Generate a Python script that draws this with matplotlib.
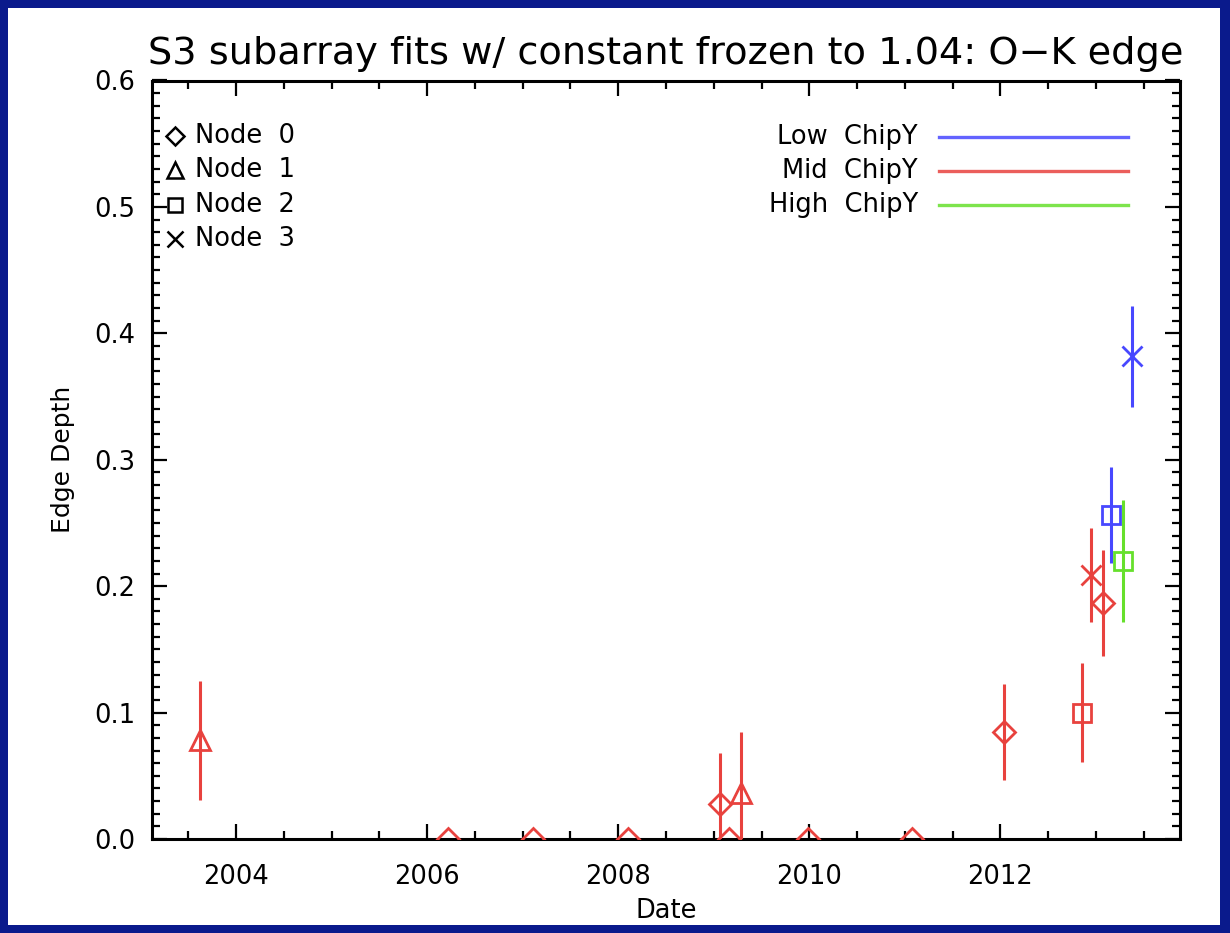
import matplotlib.pyplot as plt
from matplotlib.patches import Rectangle
from matplotlib.ticker import MultipleLocator

# Mid ChipY fits (red)
mid_date = [2003.62, 2006.22, 2007.11, 2008.10, 2009.07, 2009.16, 2009.29,
            2009.99, 2011.08, 2012.04, 2012.85, 2012.95, 2013.07]
mid_depth = [0.078, 0.0, 0.0, 0.0, 0.028, 0.0, 0.036,
             0.0, 0.0, 0.085, 0.100, 0.209, 0.187]
mid_err = [0.047, 0.0, 0.0, 0.0, 0.040, 0.0, 0.049,
           0.0, 0.0, 0.038, 0.039, 0.037, 0.042]
mid_node = [1, 0, 0, 0, 0, 0, 1, 0, 0, 0, 2, 3, 0]

# Low ChipY fits (blue)
low_date = [2013.16, 2013.38]
low_depth = [0.256, 0.382]
low_err = [0.038, 0.040]
low_node = [2, 3]

# High ChipY fits (green)
high_date = [2013.28]
high_depth = [0.220]
high_err = [0.048]
high_node = [2]

node_names = ['Node  0', 'Node  1', 'Node  2', 'Node  3']
chip_names = ['Low  ChipY', 'Mid  ChipY', 'High  ChipY']

node_marker = {0: 'D', 1: '^', 2: 's', 3: 'x'}
node_ms = {0: 11, 1: 14, 2: 13, 3: 15}
RED = '#e8423e'
BLUE = '#4848ff'
GREEN = '#66e02c'
chip_color = [BLUE, RED, GREEN]

plt.rcParams['font.family'] = 'DejaVu Sans'

fig = plt.figure(figsize=(12.3, 9.33), dpi=100)
fig.patch.set_facecolor('#0a1a8c')
fig.patches.append(Rectangle((8 / 1230, 8 / 933), 1212 / 1230, 917 / 933,
                             transform=fig.transFigure, facecolor='white',
                             edgecolor='none', zorder=-10))

ax = fig.add_axes([152 / 1230, 1 - 839 / 933, 1028 / 1230, 758.5 / 933])
ax.set_facecolor('white')


def draw_set(dates, depths, errs, nodes, color):
    for d, v, e, n in zip(dates, depths, errs, nodes):
        ax.errorbar(d, v, yerr=e, fmt=node_marker[n], ms=node_ms[n],
                    mfc='none', mec=color, mew=2.0, ecolor=color,
                    elinewidth=2.2, capsize=0, zorder=3)


draw_set(mid_date, mid_depth, mid_err, mid_node, RED)
draw_set(low_date, low_depth, low_err, low_node, BLUE)
draw_set(high_date, high_depth, high_err, high_node, GREEN)

ax.set_xlim(2003.12, 2013.88)
ax.set_ylim(0.0, 0.6)
ax.xaxis.set_major_locator(MultipleLocator(2))
ax.xaxis.set_minor_locator(MultipleLocator(0.5))
ax.yaxis.set_major_locator(MultipleLocator(0.1))
ax.yaxis.set_minor_locator(MultipleLocator(0.01))
ax.yaxis.set_major_formatter(plt.FuncFormatter(lambda v, p: '%.1f' % v))

ax.tick_params(which='both', direction='in', top=True, right=True,
               labelsize=18.5, width=1.6, colors='black')
ax.tick_params(which='major', length=11)
ax.tick_params(axis='x', which='major', pad=18)
ax.tick_params(axis='y', which='major', pad=12)
ax.tick_params(which='minor', length=6)
for s in ax.spines.values():
    s.set_linewidth(2.2)

ax.set_title('S3 subarray fits w/ constant frozen to 1.04: O\u2212K edge',
             fontsize=27.5, pad=12)
ax.set_xlabel('Date', fontsize=18.5, labelpad=6)
ax.set_ylabel('Edge Depth', fontsize=18, labelpad=14)

# node symbol key, upper left
for i, name in enumerate(node_names):
    yy = 0.927 - i * 0.0455
    ax.plot(0.022, yy, marker=node_marker[i], ms=node_ms[i] * 0.8,
            mfc='none', mec='black', mew=1.8, transform=ax.transAxes,
            clip_on=False)
    ax.text(0.042, yy, name, fontsize=18.5, va='center', ha='left',
            transform=ax.transAxes)

# chip colour key, upper right
for i, name in enumerate(chip_names):
    yy = 0.925 - i * 0.0445
    ax.text(0.745, yy, name, fontsize=18.5, va='center', ha='right',
            transform=ax.transAxes)
    ax.plot([0.766, 0.949], [yy, yy], color=chip_color[i], lw=2.4,
            transform=ax.transAxes, alpha=0.85)

fig.savefig('out.png', dpi=100, facecolor=fig.get_facecolor())
